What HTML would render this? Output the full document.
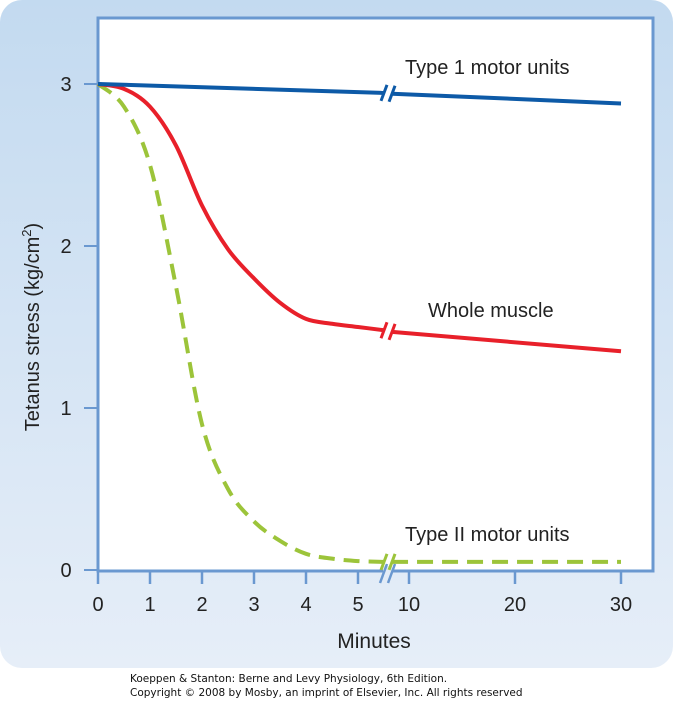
<!DOCTYPE html>
<html><head><meta charset="utf-8">
<style>
html,body{margin:0;padding:0;background:#fff;}
body{width:673px;height:700px;position:relative;overflow:hidden;font-family:"Liberation Sans",sans-serif;}
</style></head>
<body>
<svg width="673" height="700" viewBox="0 0 673 700" xmlns="http://www.w3.org/2000/svg">
<defs>
<linearGradient id="bg" x1="0" y1="0" x2="0" y2="1">
<stop offset="0" stop-color="#c3daf0"/><stop offset="1" stop-color="#e6eef8"/>
</linearGradient>
</defs>
<rect x="0" y="0" width="673" height="668" rx="22" fill="url(#bg)"/>
<rect x="98" y="18" width="555" height="553" fill="#fff" stroke="#6a98d0" stroke-width="3"/>
<g id="ticks"></g>
<g id="series"></g>
<text x="405" y="74" font-size="20" fill="#222">Type 1 motor units</text>
<text x="428" y="317" font-size="20" fill="#222">Whole muscle</text>
<text x="405" y="541" font-size="20" fill="#222">Type II motor units</text>
<text x="374" y="648" font-size="21" fill="#222" text-anchor="middle">Minutes</text>
<text transform="translate(39,327) rotate(-90)" font-size="20" fill="#222" text-anchor="middle">Tetanus stress (kg/cm<tspan font-size="13" dy="-8">2</tspan><tspan dy="8">)</tspan></text>
<text x="130" y="682" font-family="DejaVu Sans, sans-serif" font-size="10.5" fill="#111">Koeppen &amp; Stanton: Berne and Levy Physiology, 6th Edition.</text>
<text x="130" y="696" font-family="DejaVu Sans, sans-serif" font-size="10.5" fill="#111">Copyright © 2008 by Mosby, an imprint of Elsevier, Inc. All rights reserved</text>
</svg>
<script>
const xTicks=[0,1,2,3,4,5,10,20,30];
const yTicks=[0,1,2,3];
const type1X=[0,5.5,8.4,30];
const type1Y=[3,2.945,2.94,2.88];
const wholeX=[0,0.5,1,1.5,2,2.5,3,3.5,4,4.5,5,5.5,8.4,30];
const wholeY=[3,2.97,2.86,2.62,2.25,1.98,1.8,1.65,1.55,1.52,1.5,1.48,1.47,1.35];
const type2X=[0,0.5,1,1.5,2,2.5,3,3.5,4,4.5,5,5.5,8.4,30];
const type2Y=[3,2.86,2.5,1.75,0.9,0.5,0.3,0.18,0.1,0.07,0.055,0.05,0.05,0.05];
const NS="http://www.w3.org/2000/svg";
function sx(m){return m<=6?98+52*m:409+10.6*(m-10);}
function sy(v){return 570-162*v;}
function mk(tag,attrs,parent){const e=document.createElementNS(NS,tag);for(const k in attrs)e.setAttribute(k,attrs[k]);parent.appendChild(e);return e;}
const tg=document.getElementById('ticks');
xTicks.forEach(t=>{
 const l=mk('line',{x1:sx(t),x2:sx(t),y1:571,y2:584,stroke:'#6a98d0','stroke-width':2.5},tg);
 
 
 const tx=mk('text',{x:sx(t),y:611,'font-size':20,fill:'#222','text-anchor':'middle'},tg);
 tx.textContent=t;
 
 
});
yTicks.forEach(t=>{
 const l=mk('line',{x1:84,x2:98,y1:sy(t),y2:sy(t),stroke:'#6a98d0','stroke-width':2},tg);
 
 
 const tx=mk('text',{x:66,y:sy(t)+7,'font-size':20,fill:'#222','text-anchor':'middle'},tg);
 tx.textContent=t;
 
 
});
// axis break gap
const gap=mk('rect',{x:383,y:566,width:9,height:10,fill:'#e3ecf7'},tg);


[[380,387],[388,395]].forEach(b=>{
 const l=mk('line',{x1:b[0],y1:583,x2:b[1],y2:564,stroke:'#6a98d0','stroke-width':2.5},tg);
 
 
});
function smooth(pts){
 let d='M'+pts[0][0]+','+pts[0][1];
 for(let i=0;i<pts.length-1;i++){
  const p0=pts[i-1]||pts[i],p1=pts[i],p2=pts[i+1],p3=pts[i+2]||p2;
  const c1=[p1[0]+(p2[0]-p0[0])/6,p1[1]+(p2[1]-p0[1])/6];
  const c2=[p2[0]-(p3[0]-p1[0])/6,p2[1]-(p3[1]-p1[1])/6];
  d+=' C'+c1[0]+','+c1[1]+' '+c2[0]+','+c2[1]+' '+p2[0]+','+p2[1];
 }
 return d;
}
const sg=document.getElementById('series');
function drawSeries(xs,ys,color,name,dash){
 const left=[],right=[];
 xs.forEach((x,i)=>{(x<=6?left:right).push([sx(x),sy(ys[i])]);});
 [left,right].forEach(pts=>{
  const p=mk('path',{d:pts.length>2?smooth(pts):'M'+pts.map(q=>q.join(',')).join(' L'),fill:'none',stroke:color,'stroke-width':4,'stroke-linecap':'butt'},sg);
  if(dash)p.setAttribute('stroke-dasharray','16 9');
  
  
 });
 const yl=sy(ys[xs.indexOf(5.5)]),yr=sy(ys[xs.indexOf(8.4)]);
 [[sx(5.5),yl],[sx(8.4),yr]].forEach(q=>{
  const m=mk('line',{x1:q[0]-3,y1:q[1]+8,x2:q[0]+3,y2:q[1]-8,stroke:color,'stroke-width':3},sg);
  
  
 });
}
drawSeries(type2X,type2Y,'#9cc43a','type2-line',true);
drawSeries(wholeX,wholeY,'#e8202a','whole-muscle-line',false);
drawSeries(type1X,type1Y,'#0d5aa7','type1-line',false);
</script>
</body></html>
